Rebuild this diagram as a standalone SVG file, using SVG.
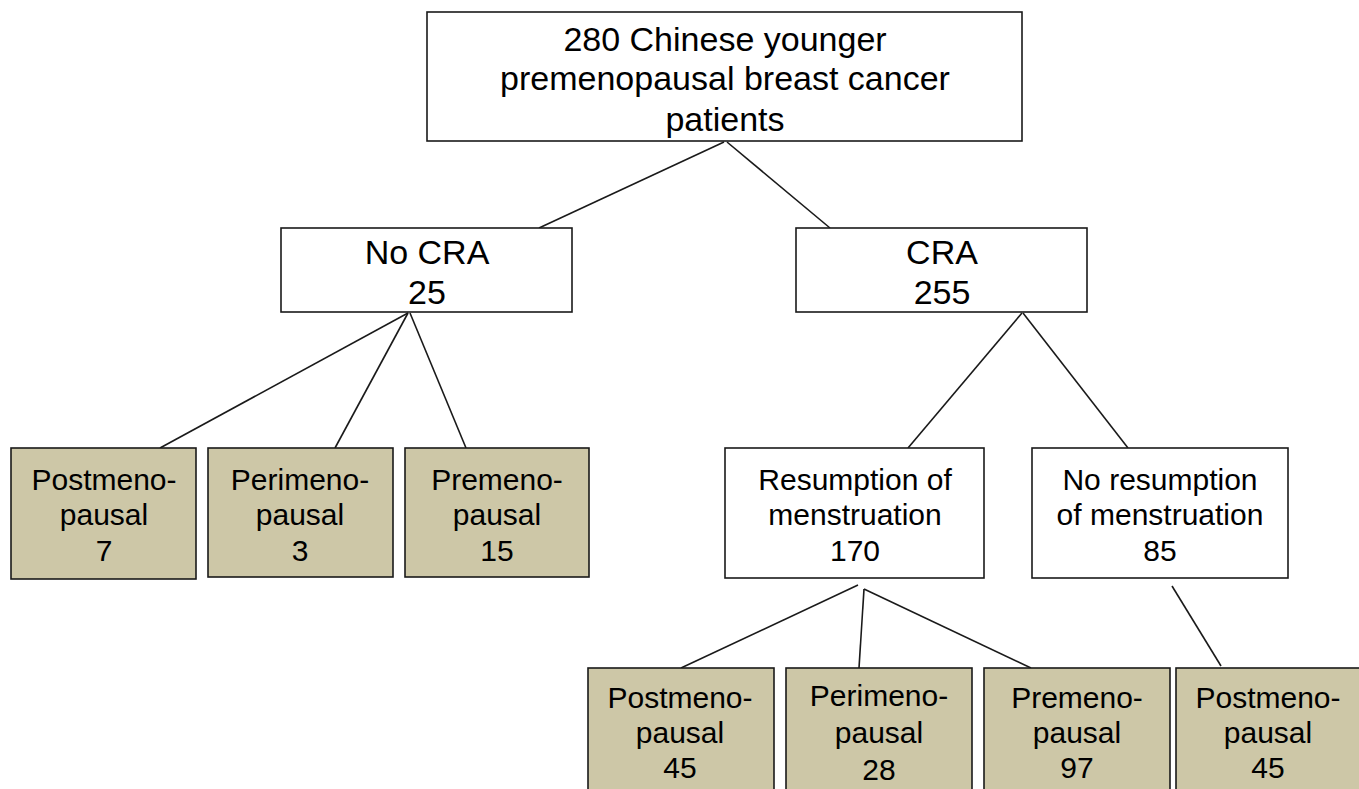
<svg xmlns="http://www.w3.org/2000/svg" width="1359" height="789" viewBox="0 0 1359 789">
<style>
.box{fill:#ffffff;stroke:#1a1a1a;stroke-width:1.6}
.tan{fill:#cdc7a7;stroke:#1a1a1a;stroke-width:1.6}
.lg{font-family:"Liberation Sans",Arial,sans-serif;font-size:34px;fill:#000;text-anchor:middle}
.sm{font-family:"Liberation Sans",Arial,sans-serif;font-size:30px;fill:#000;text-anchor:middle}
.conn line{stroke:#1a1a1a;stroke-width:1.6}
</style>
<rect width="1359" height="789" fill="#ffffff"/>
<g id="connectors" class="conn">
<line x1="724" y1="142" x2="539" y2="228"/>
<line x1="727" y1="142" x2="830" y2="228"/>
<line x1="408" y1="313" x2="160" y2="448"/>
<line x1="408" y1="313" x2="335" y2="448"/>
<line x1="410" y1="313" x2="466" y2="448"/>
<line x1="1022" y1="313" x2="908" y2="448"/>
<line x1="1023" y1="313" x2="1128" y2="448"/>
<line x1="858" y1="585" x2="681" y2="668"/>
<line x1="864" y1="589" x2="859" y2="668"/>
<line x1="864" y1="589" x2="1031" y2="668"/>
<line x1="1172" y1="586" x2="1221" y2="666"/>
</g>
<g id="n-root">
<rect class="box" x="427" y="12" width="595" height="129"/>
<text class="lg" x="725" y="51">280 Chinese younger</text>
<text class="lg" x="725" y="90">premenopausal breast cancer</text>
<text class="lg" x="725" y="131">patients</text>
</g>
<g id="n-nocra">
<rect class="box" x="281" y="228" width="291" height="84"/>
<text class="lg" x="427" y="264">No CRA</text>
<text class="lg" x="427" y="304">25</text>
</g>
<g id="n-cra">
<rect class="box" x="796" y="228" width="291" height="84"/>
<text class="lg" x="942" y="264">CRA</text>
<text class="lg" x="942" y="304">255</text>
</g>
<g id="n-l-post">
<rect class="tan" x="11" y="448" width="185" height="131"/>
<text class="sm" x="104" y="490">Postmeno-</text>
<text class="sm" x="104" y="525">pausal</text>
<text class="sm" x="104" y="561">7</text>
</g>
<g id="n-l-peri">
<rect class="tan" x="208" y="448" width="185" height="129"/>
<text class="sm" x="300" y="490">Perimeno-</text>
<text class="sm" x="300" y="525">pausal</text>
<text class="sm" x="300" y="561">3</text>
</g>
<g id="n-l-pre">
<rect class="tan" x="405" y="448" width="184" height="129"/>
<text class="sm" x="497" y="490">Premeno-</text>
<text class="sm" x="497" y="525">pausal</text>
<text class="sm" x="497" y="561">15</text>
</g>
<g id="n-resump">
<rect class="box" x="725" y="448" width="259" height="130"/>
<text class="sm" x="855" y="490">Resumption of</text>
<text class="sm" x="855" y="525">menstruation</text>
<text class="sm" x="855" y="561">170</text>
</g>
<g id="n-noresump">
<rect class="box" x="1032" y="448" width="256" height="130"/>
<text class="sm" x="1160" y="490">No resumption</text>
<text class="sm" x="1160" y="525">of menstruation</text>
<text class="sm" x="1160" y="561">85</text>
</g>
<g id="n-b-post">
<rect class="tan" x="588" y="668" width="186" height="130"/>
<text class="sm" x="680" y="708">Postmeno-</text>
<text class="sm" x="680" y="743">pausal</text>
<text class="sm" x="680" y="778">45</text>
</g>
<g id="n-b-peri">
<rect class="tan" x="786" y="668" width="186" height="130"/>
<text class="sm" x="879" y="706">Perimeno-</text>
<text class="sm" x="879" y="743">pausal</text>
<text class="sm" x="879" y="780">28</text>
</g>
<g id="n-b-pre">
<rect class="tan" x="984" y="668" width="186" height="130"/>
<text class="sm" x="1077" y="708">Premeno-</text>
<text class="sm" x="1077" y="743">pausal</text>
<text class="sm" x="1077" y="778">97</text>
</g>
<g id="n-b-post2">
<rect class="tan" x="1176" y="668" width="190" height="130"/>
<text class="sm" x="1268" y="708">Postmeno-</text>
<text class="sm" x="1268" y="743">pausal</text>
<text class="sm" x="1268" y="778">45</text>
</g>
</svg>
